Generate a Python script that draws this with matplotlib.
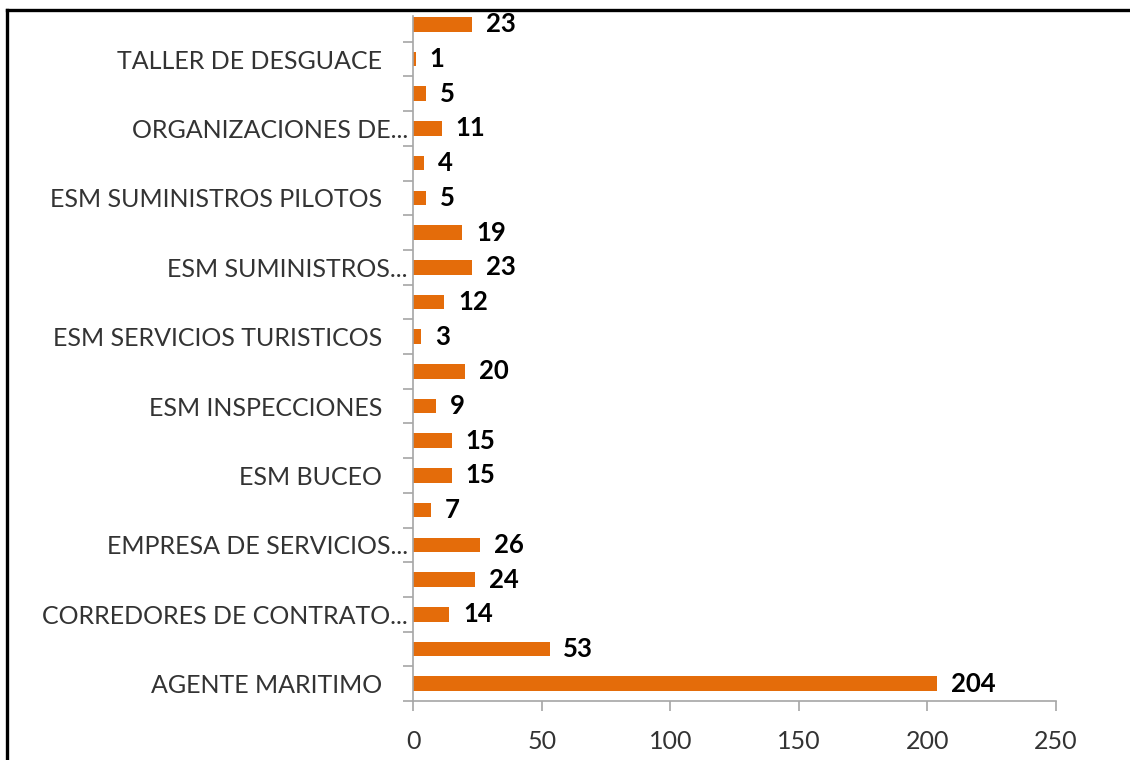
import numpy as np
import matplotlib.pyplot as plt
from matplotlib.lines import Line2D

# categories from bottom to top; only every other one is labelled in the chart
labels = ['AGENTE MARITIMO    ', '',
          'CORREDORES DE CONTRATO...', '',
          'EMPRESA DE SERVICIOS...', '',
          'ESM BUCEO    ', '',
          'ESM INSPECCIONES    ', '',
          'ESM SERVICIOS TURISTICOS    ', '',
          'ESM SUMINISTROS...', '',
          'ESM SUMINISTROS PILOTOS    ', '',
          'ORGANIZACIONES DE...', '',
          'TALLER DE DESGUACE    ', '']
values = [204, 53, 14, 24, 26, 7, 15, 15, 9, 20,
          3, 12, 23, 19, 5, 4, 11, 5, 1, 23]

bar_color = '#E46C0A'
axis_gray = '#A6A6A6'
text_gray = '#333333'

plt.rcParams['font.family'] = ['Lato', 'DejaVu Sans']

fig = plt.figure(figsize=(11.3, 7.6), dpi=100)
ax = fig.add_axes([0.3658, 0.0776, 0.5684, 0.9013])

y = np.arange(len(values))
bars = ax.barh(y, values, height=0.42, color=bar_color)
ax.bar_label(bars, padding=10, fontsize=18.5, fontweight='bold', color='black')

ax.set_xlim(0, 250)
ax.set_ylim(-0.5, 19.24)
ax.set_xticks(np.arange(0, 251, 50))
ax.set_yticks(y)
ax.set_yticklabels(labels)
ax.set_yticks(np.arange(-0.5, 19, 1), minor=True)

ax.tick_params(axis='y', which='major', length=0, pad=4, labelsize=18, labelcolor=text_gray)
ax.tick_params(axis='y', which='minor', length=7.5, width=1.2, color=axis_gray)
ax.tick_params(axis='x', length=7, width=1.2, color=axis_gray, pad=14,
               labelsize=18, labelcolor=text_gray)

for side in ['top', 'right']:
    ax.spines[side].set_visible(False)
for side in ['left', 'bottom']:
    ax.spines[side].set_color(axis_gray)
    ax.spines[side].set_linewidth(1.2)

# outer frame (only top and left edges show in the crop)
W, H = 1130, 760
fig.add_artist(Line2D([7 / W, 1], [1 - 10 / H, 1 - 10 / H], color='black', lw=2.4,
                      transform=fig.transFigure))
fig.add_artist(Line2D([7 / W, 7 / W], [0, 1 - 10 / H], color='black', lw=2.4,
                      transform=fig.transFigure))

fig.savefig('out.png', dpi=100)
